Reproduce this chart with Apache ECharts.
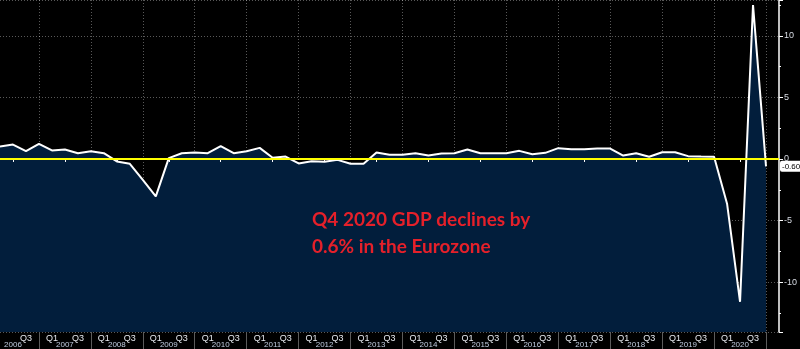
<!DOCTYPE html>
<html><head><meta charset="utf-8">
<script src="https://cdn.jsdelivr.net/npm/echarts@6/dist/echarts.min.js"></script>
<style>html,body{margin:0;padding:0;background:#000}#c{width:800px;height:349px}</style>
</head><body><div id="c"></div>
<script>
const years = [2006,2007,2008,2009,2010,2011,2012,2013,2014,2015,2016,2017,2018,2019,2020];
const quarters = ['Q1','Q2','Q3','Q4'];
const gdp = [
  1.01, 1.17, 0.63, 1.23,
  0.69, 0.77, 0.47, 0.63,
  0.47, -0.20, -0.39, -1.69,
  -3.04, 0.07, 0.47, 0.53,
  0.47, 1.04, 0.47, 0.63,
  0.90, 0.10, 0.20, -0.36,
  -0.18, -0.23, -0.07, -0.39,
  -0.39, 0.53, 0.34, 0.34,
  0.47, 0.28, 0.45, 0.47,
  0.77, 0.47, 0.47, 0.47,
  0.66, 0.39, 0.50, 0.88,
  0.80, 0.80, 0.85, 0.85,
  0.28, 0.47, 0.18, 0.55,
  0.55, 0.23, 0.20, 0.18,
  -3.63, -11.60, 12.50, -0.60
];
const yTickLabels = [-10, -5, 0, 5, 10];
const annotation = 'Q4 2020 GDP declines by\n0.6% in the Eurozone';

const categories = [];
years.forEach(y => quarters.forEach(q => categories.push(q + ' ' + y)));
categories.push('');
const last = gdp[gdp.length - 1];
const nQ = gdp.length;

const chart = echarts.init(document.getElementById('c'), null, {renderer: 'canvas'});
chart.setOption({
  animation: false,
  backgroundColor: '#000000',
  title: {
    text: annotation,
    left: 312, top: 206, padding: 0,
    textStyle: {color: '#e5202a', fontSize: 19, fontWeight: 'bold', fontFamily: 'Lato', lineHeight: 27}
  },
  grid: {left: -1, right: 21, top: -1, bottom: 17, containLabel: false},
  xAxis: [{
    type: 'category', data: categories, boundaryGap: false, position: 'bottom', z: 3,
    axisLine: {show: true, lineStyle: {color: '#6c7c94', width: 1}},
    axisTick: {show: true, length: 3, interval: (i) => i % 4 === 1 && i < nQ, lineStyle: {color: '#ffffff'}},
    axisLabel: {
      show: true, interval: (i) => i > 0 && i < nQ && (i % 4 === 0 || i % 4 === 2),
      formatter: (v) => v.split(' ')[0], color: '#e6e9ef', fontSize: 9, margin: 2, fontFamily: 'Liberation Sans'
    },
    splitLine: {show: true, interval: (i) => i % 4 === 3 && i < nQ, lineStyle: {color: 'rgba(255,255,255,0.35)', type: [1, 2], width: 1}}
  }, {
    type: 'category', data: categories, boundaryGap: false, position: 'bottom', z: 3,
    axisLine: {show: false},
    axisTick: {show: true, length: 17, interval: (i) => i % 4 === 3 && i < nQ, lineStyle: {color: '#5c5c5c'}},
    axisLabel: {
      show: true, interval: (i) => i % 4 === 1 && i < nQ,
      formatter: (v) => v.split(' ')[1], color: '#c0cce0', fontSize: 8, margin: 9, fontFamily: 'Liberation Sans'
    },
    splitLine: {show: false}
  }],
  yAxis: {
    type: 'value', position: 'right', min: -14.05, max: 12.91, splitNumber: 5, z: 3,
    axisLine: {show: true, lineStyle: {color: '#ffffff', width: 1.5}},
    axisTick: {show: true, length: 4, inside: false, lineStyle: {color: '#ffffff'}},
    minorTick: {show: true, splitNumber: 2, length: 2, lineStyle: {color: '#ffffff'}},
    axisLabel: {
      show: true, showMinLabel: false, showMaxLabel: false, margin: 5, fontSize: 9,
      color: '#d8dce4', fontFamily: 'Liberation Sans',
      formatter: (v) => yTickLabels.some(t => Math.abs(t - v) < 1e-6) ? String(v) : ''
    },
    splitLine: {show: true, lineStyle: {color: 'rgba(255,255,255,0.35)', type: [1, 2], width: 1}}
  },
  series: [{
    type: 'line', data: gdp, xAxisIndex: 0, yAxisIndex: 0,
    showSymbol: false, symbol: 'none',
    lineStyle: {color: '#ffffff', width: 2},
    areaStyle: {color: '#021e3c', opacity: 1, origin: 'start'},
    markLine: {
      silent: true, symbol: ['none', 'none'], animation: false,
      data: [
        {yAxis: 0, lineStyle: {color: '#ffff00', width: 2, type: 'solid'}, label: {show: false}},
        {yAxis: last, lineStyle: {color: 'rgba(0,0,0,0)', width: 0},
          label: {show: true, position: 'end', formatter: last.toFixed(2), backgroundColor: '#ffffff',
            color: '#000000', fontSize: 8, fontFamily: 'Liberation Sans', padding: [2, 3, 1, 2], borderRadius: 2, distance: 1}}
      ]
    }
  }]
});
</script>
</body></html>
